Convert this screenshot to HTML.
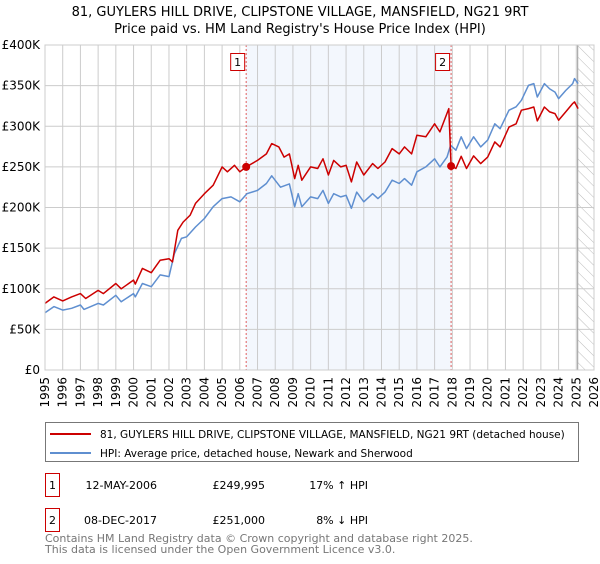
<!DOCTYPE html>
<html><head><meta charset="utf-8">
<style>
body{margin:0;background:#fff;width:600px;height:560px;overflow:hidden;font-family:"DejaVu Sans","Liberation Sans",sans-serif;}
svg text{font-family:"DejaVu Sans","Liberation Sans",sans-serif;}
</style></head>
<body>
<svg id="chart" width="600" height="560" xmlns="http://www.w3.org/2000/svg">
<defs>
<pattern id="hatch" patternUnits="userSpaceOnUse" width="8" height="8" patternTransform="rotate(-45)">
<line x1="0" y1="0" x2="0" y2="8" stroke="#bbb" stroke-width="1"/>
</pattern>
</defs>
<text x="300" y="16" text-anchor="middle" font-size="13" fill="#000">81, GUYLERS HILL DRIVE, CLIPSTONE VILLAGE, MANSFIELD, NG21 9RT</text>
<text x="300" y="33" text-anchor="middle" font-size="13" fill="#000">Price paid vs. HM Land Registry's House Price Index (HPI)</text>
<g id="plot"></g>
<g>
<rect x="45.5" y="422.5" width="533" height="39" fill="#fff" stroke="#777"/>
<line x1="50" y1="434" x2="91" y2="434" stroke="#cc0000" stroke-width="2"/>
<text x="100" y="438" font-size="10.5">81, GUYLERS HILL DRIVE, CLIPSTONE VILLAGE, MANSFIELD, NG21 9RT (detached house)</text>
<line x1="50" y1="453" x2="91" y2="453" stroke="#5f8fd0" stroke-width="2"/>
<text x="100" y="457" font-size="10.5">HPI: Average price, detached house, Newark and Sherwood</text>
</g>
<g font-size="11">
<rect x="45.5" y="473.5" width="14" height="23" fill="#fff" stroke="#cc0000"/>
<text x="52.5" y="489" text-anchor="middle">1</text>
<text x="157" y="489" text-anchor="end">12-MAY-2006</text>
<text x="265" y="489" text-anchor="end">£249,995</text>
<text x="368" y="489" text-anchor="end">17% ↑ HPI</text>
<rect x="45.5" y="508.5" width="14" height="23" fill="#fff" stroke="#cc0000"/>
<text x="52.5" y="524" text-anchor="middle">2</text>
<text x="157" y="524" text-anchor="end">08-DEC-2017</text>
<text x="265" y="524" text-anchor="end">£251,000</text>
<text x="368" y="524" text-anchor="end">8% ↓ HPI</text>
</g>
<text x="45" y="542" font-size="11" fill="#777">Contains HM Land Registry data © Crown copyright and database right 2025.</text>
<text x="45" y="553" font-size="11" fill="#777">This data is licensed under the Open Government Licence v3.0.</text>
</svg>
<script>
const yearTicks=[1995,1996,1997,1998,1999,2000,2001,2002,2003,2004,2005,2006,2007,2008,2009,2010,2011,2012,2013,2014,2015,2016,2017,2018,2019,2020,2021,2022,2023,2024,2025,2026];
const priceTicks=[0,50000,100000,150000,200000,250000,300000,350000,400000];
const priceTickLabels=["£0","£50K","£100K","£150K","£200K","£250K","£300K","£350K","£400K"];
const hpiYears=[1995,1995.5,1996,1996.5,1997,1997.2,1998,1998.3,1999,1999.3,2000,2000.1,2000.5,2001,2001.5,2002,2002.3,2002.7,2003,2003.5,2004,2004.5,2005,2005.5,2006,2006.4,2007,2007.5,2007.8,2008.3,2008.8,2009.1,2009.3,2009.5,2010,2010.4,2010.7,2011,2011.3,2011.7,2012,2012.3,2012.6,2013,2013.5,2013.8,2014.2,2014.6,2015,2015.3,2015.7,2016,2016.5,2017,2017.3,2017.7,2017.9,2018.2,2018.5,2018.8,2019.2,2019.6,2020,2020.4,2020.7,2021.2,2021.6,2021.9,2022.3,2022.6,2022.8,2023.2,2023.5,2023.8,2024,2024.4,2024.8,2024.9,2025.1];
const hpiValues=[70500,78000,73700,76000,80000,74600,82000,80000,92000,84000,94000,90000,106500,102500,117000,115000,143000,162000,164000,176000,186500,201000,211000,213000,207000,217000,221000,229500,239000,225000,229000,201000,217000,201000,213000,211000,221000,205000,217000,213000,215000,199000,219000,207000,217000,211000,219000,233600,229500,235600,227500,244000,250000,260000,250000,262000,276600,270500,287000,272500,287000,274600,283000,303000,297000,319700,324000,332000,350400,352500,336000,352500,346000,342000,334000,344000,352500,358600,352500];
const propYears=[1995,1995.5,1996,1996.5,1997,1997.3,1998,1998.3,1999,1999.3,2000,2000.1,2000.5,2001,2001.5,2002,2002.2,2002.5,2002.8,2003.2,2003.5,2004,2004.5,2005,2005.3,2005.7,2006,2006.36,2007,2007.5,2007.8,2008.2,2008.5,2008.8,2009.1,2009.3,2009.5,2010,2010.4,2010.7,2011,2011.3,2011.7,2012,2012.3,2012.6,2013,2013.5,2013.8,2014.2,2014.6,2015,2015.3,2015.7,2016,2016.5,2017,2017.3,2017.8,2017.93,2018.2,2018.5,2018.8,2019.2,2019.6,2020,2020.4,2020.7,2021.2,2021.6,2021.9,2022.3,2022.6,2022.8,2023.2,2023.5,2023.8,2024,2024.4,2024.8,2024.9,2025.1];
const propValues=[82000,90000,85000,90000,94000,88000,98000,94000,106500,100000,110700,105700,125000,119700,135000,137000,133000,172000,182000,190600,205000,217000,227500,250000,244000,252000,244000,249995,258000,266000,278700,274600,262000,266000,235600,252000,233600,250000,248000,260000,240000,258000,250000,252000,231500,256000,240000,254000,248000,256000,272500,266000,274600,266000,289000,287000,303000,293000,321700,251000,248000,263000,248000,263500,254000,262000,280700,274600,299000,303000,319700,321700,323700,306600,323700,317600,315600,307400,317600,328000,330000,321700];
const saleYears=[2006.36,2017.93];
const salePrices=[249995,251000];
const saleLabels=["1","2"];

const L=45,R=594,T=45,B=370;
const x=y=>L+(y-1995)/(2026-1995)*(R-L);
const yv=v=>B-v/400000*(B-T);
const NS="http://www.w3.org/2000/svg";
const g=document.getElementById('plot');
function mk(tag,attrs){const e=document.createElementNS(NS,tag);for(const k in attrs)e.setAttribute(k,attrs[k]);g.appendChild(e);return e;}

let sh=mk('rect',{x:x(saleYears[0]),y:T,width:x(saleYears[1])-x(saleYears[0]),height:B-T,fill:'#eef3fc',opacity:0.7});


let ht=mk('rect',{x:x(2025.08),y:T,width:R-x(2025.08),height:B-T,fill:'url(#hatch)'});


yearTicks.forEach(yr=>{
  let l=mk('line',{x1:x(yr),x2:x(yr),y1:T,y2:B,stroke:'#ccc','stroke-width':1});
  
  
  let t=mk('text',{x:0,y:0,'font-size':12,'text-anchor':'end',transform:`translate(${x(yr)+4},${B+7}) rotate(-90)`});
  t.textContent=yr;
  
  
});
priceTicks.forEach((p,i)=>{
  let l=mk('line',{x1:L,x2:R,y1:yv(p),y2:yv(p),stroke:'#ccc','stroke-width':1});
  
  
  let t=mk('text',{x:L-5,y:yv(p)+4,'font-size':12,'text-anchor':'end'});
  t.textContent=priceTickLabels[i];
  
  
});
let cl=mk('line',{x1:x(2025.08),x2:x(2025.08),y1:T,y2:B,stroke:'#999','stroke-width':1});


saleYears.forEach((sy,i)=>{
  let l=mk('line',{x1:x(sy),x2:x(sy),y1:T,y2:B,stroke:'#e06060','stroke-width':1,'stroke-dasharray':'2,2'});
  
  
  let r=mk('rect',{x:x(sy)-15.5,y:53.5,width:14,height:17,fill:'#fff',stroke:'#cc0000'});
  
  
  let t=mk('text',{x:x(sy)-8.5,y:66,'font-size':11,'text-anchor':'middle'});
  t.textContent=saleLabels[i];
  
  
});
const pts=(xs,vs)=>xs.map((v,i)=>x(v).toFixed(1)+','+yv(vs[i]).toFixed(1)).join(' ');
let hp=mk('polyline',{points:pts(hpiYears,hpiValues),fill:'none',stroke:'#5f8fd0','stroke-width':1.5,'stroke-linejoin':'round'});


let pp=mk('polyline',{points:pts(propYears,propValues),fill:'none',stroke:'#cc0000','stroke-width':1.5,'stroke-linejoin':'round'});


saleYears.forEach((sy,i)=>{
  let c=mk('circle',{cx:x(sy),cy:yv(salePrices[i]),r:4,fill:'#cc0000'});
  
  
});
let bx=mk('rect',{x:L,y:T,width:R-L,height:B-T,fill:'none',stroke:'#ccc'});


</script>
</body></html>
